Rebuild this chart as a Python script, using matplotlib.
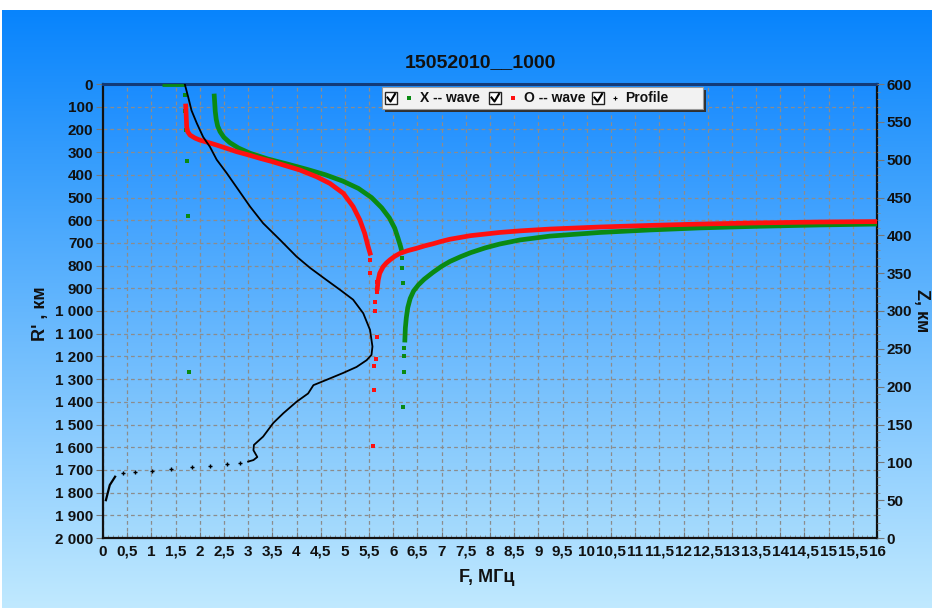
import numpy as np
import matplotlib
matplotlib.use('Agg')
import matplotlib.pyplot as plt
from matplotlib.patches import Rectangle
from matplotlib.lines import Line2D
from matplotlib.ticker import MultipleLocator, FuncFormatter

plt.rcParams['font.family'] = ['Liberation Sans', 'DejaVu Sans']
plt.rcParams['font.weight'] = 'bold'

# ---------------- data ----------------
title = "15052010__1000"

# X-wave (green), virtual range R' (km) vs F (MHz)
x_top_F = [1.22, 1.69]
x_top_R = [3, 3]
x_up_F = [2.30, 2.31, 2.32, 2.34, 2.37, 2.42, 2.50, 2.62, 2.80, 3.04, 3.40, 3.80, 4.20,
          4.60, 4.96, 5.28, 5.55, 5.76, 5.92, 6.03, 6.10, 6.15, 6.18]
x_up_R = [53, 85, 120, 155, 185, 210, 235, 258, 282, 305, 330, 352, 375,
          400, 428, 460, 500, 545, 590, 635, 680, 715, 740]
x_low_F = [6.24, 6.25, 6.27, 6.30, 6.35, 6.42, 6.52, 6.64, 6.82, 7.0, 7.17, 7.4, 7.6, 7.9,
           8.2, 8.62, 9.24, 10.27, 11.3, 12.33, 13.5, 14.8, 16.0]
x_low_R = [1128, 1075, 1030, 985, 945, 912, 885, 860, 830, 803, 782, 760, 743, 722,
           705, 687, 670, 654, 643, 634, 627, 621, 617]
x_pts_F = [1.69, 1.69, 1.71, 1.73, 1.75, 1.77, 6.18, 6.18, 6.20, 6.22, 6.22, 6.22, 6.20]
x_pts_R = [48, 119, 203, 339, 581, 1269, 766, 810, 877, 1165, 1200, 1269, 1423]

# O-wave (red)
o_up_F = [1.71, 1.72, 1.73, 1.75, 1.80, 1.90, 2.00, 2.18, 2.35, 2.55, 2.76, 3.00, 3.24,
          3.50, 3.73, 4.07, 4.42, 4.69, 4.97, 5.17, 5.31, 5.41, 5.48, 5.52]
o_up_R = [97, 140, 190, 210, 225, 238, 247, 258, 269, 283, 298, 312, 327,
          342, 357, 379, 409, 438, 482, 540, 599, 658, 716, 745]
o_low_F = [5.67, 5.69, 5.72, 5.79, 5.86, 5.93, 6.03, 6.14, 6.30, 6.48, 6.65, 6.82, 7.0, 7.17,
           7.6, 8.2, 8.62, 9.24, 10.27, 11.3, 12.33, 13.5, 14.8, 16.0]
o_low_R = [900, 863, 834, 805, 788, 775, 759, 746, 734, 724, 713, 704, 693, 684,
           668, 654, 647, 639, 630, 623, 617, 612, 608, 606]
o_pts_F = [5.52, 5.52, 5.66, 5.66, 5.62, 5.62, 5.66, 5.64, 5.60, 5.60, 5.58]
o_pts_R = [775, 833, 872, 916, 960, 1000, 1115, 1211, 1242, 1348, 1595]

# Profile (black), height Z (km) vs F (MHz)
p_line_F = [1.69, 1.76, 1.83, 1.94, 2.07, 2.21, 2.35, 2.56, 2.80, 3.04, 3.31, 3.66, 4.00,
            4.28, 4.62, 4.90, 5.17, 5.38, 5.52, 5.57, 5.55, 5.45, 5.24, 4.96, 4.62,
            4.35, 4.24, 4.00, 3.73, 3.52, 3.31, 3.12, 3.11, 3.19, 3.11, 3.00]
p_line_Z = [600, 583, 565, 548, 530, 517, 500, 482, 460, 438, 416, 394, 372,
            357, 341, 328, 315, 297, 275, 253, 242, 235, 226, 218, 209,
            202, 191, 180, 165, 152, 134, 123, 116, 107, 103, 101]
p_dots_F = [2.83, 2.56, 2.21, 1.84, 1.40, 1.01, 0.66, 0.41]
p_dots_Z = [99, 98, 95, 94, 91, 89, 87, 86]
p_base_F = [0.25, 0.14, 0.06]
p_base_Z = [81, 70, 50]

legend_labels = ["X -- wave", "O -- wave", "Profile"]

# ---------------- figure ----------------
W, H = 932, 608
fig = plt.figure(figsize=(W / 100, H / 100), dpi=100)
fig.patch.set_facecolor('white')


def fx(x):
    return x / W


def fy(y):
    return 1 - y / H


def gradient(c1, c2, n=256):
    t = np.linspace(0, 1, n)[:, None, None]
    c1 = np.array(c1)[None, None, :] / 255.0
    c2 = np.array(c2)[None, None, :] / 255.0
    return c1 * (1 - t) + c2 * t


bg = fig.add_axes([fx(2), 0, 1 - fx(2), fy(10)])
bg.imshow(gradient((8, 132, 252), (192, 233, 255)), aspect='auto',
          extent=[0, 1, 0, 1], origin='upper')
bg.axis('off')

ax = fig.add_axes([fx(103), fy(538), fx(877) - fx(103), fy(84) - fy(538)])
ax.imshow(gradient((26, 140, 255), (166, 219, 252)), aspect='auto',
          extent=[0, 16, 2000, 0], origin='upper', zorder=0)
ax.set_xlim(0, 16)
ax.set_ylim(2000, 0)

ax.xaxis.set_major_locator(MultipleLocator(0.5))
ax.xaxis.set_minor_locator(MultipleLocator(0.1))
ax.yaxis.set_major_locator(MultipleLocator(100))


def ffmt(v, p):
    return ('%g' % v).replace('.', ',')


def rfmt(v, p):
    v = int(round(v))
    return '{:,}'.format(v).replace(',', ' ')


ax.xaxis.set_major_formatter(FuncFormatter(ffmt))
ax.yaxis.set_major_formatter(FuncFormatter(rfmt))
ax.grid(True, which='major', color='#8c8c8c', linestyle=(0, (3, 2.5)), lw=0.9, zorder=1)

ax.tick_params(axis='y', which='major', direction='out', length=5, color='#777777',
               labelsize=11, pad=2, labelcolor='#111111')
ax.tick_params(axis='x', which='major', direction='in', length=4, color='#777777',
               labelsize=11, pad=5, labelcolor='#111111')
ax.tick_params(axis='x', which='minor', direction='in', length=2, color='#888888')

for s in ['left', 'bottom', 'right']:
    ax.spines[s].set_color('#111111')
    ax.spines[s].set_linewidth(1.6)
ax.spines['top'].set_color('#123a78')
ax.spines['top'].set_linewidth(2.2)

# traces
green = '#0a8a12'
red = '#ff1010'
ax.plot(x_top_F, x_top_R, color=green, lw=2, zorder=3, solid_capstyle='butt')
ax.plot(x_up_F, x_up_R, color=green, lw=3.4, zorder=3)
ax.plot(x_low_F, x_low_R, color=green, lw=3.4, zorder=3)
ax.plot(x_pts_F, x_pts_R, 's', color=green, ms=3.2, mew=0, zorder=3)
ax.plot(o_up_F, o_up_R, color=red, lw=3.4, zorder=4)
ax.plot(o_low_F, o_low_R, color=red, lw=3.4, zorder=4)
ax.plot(o_pts_F, o_pts_R, 's', color=red, ms=3.2, mew=0, zorder=4)

ax2 = ax.twinx()
ax2.set_ylim(0, 600)
ax2.yaxis.set_major_locator(MultipleLocator(50))
ax2.yaxis.set_minor_locator(MultipleLocator(10))
ax2.tick_params(axis='y', which='major', direction='out', length=5, color='#777777',
                labelsize=11, pad=2, labelcolor='#111111')
ax2.tick_params(axis='y', which='minor', direction='out', length=2.5, color='#888888')
for s in ax2.spines.values():
    s.set_visible(False)
ax2.plot(p_line_F, p_line_Z, color='black', lw=1.3, zorder=5)
ax2.plot(p_dots_F, p_dots_Z, '+', color='black', ms=3, mew=1, zorder=5)
ax2.plot(p_base_F, p_base_Z, color='black', lw=1.6, zorder=5)

# labels
fig.text(fx(480), fy(63), title, fontsize=14, fontweight='bold', ha='center', va='center',
         color='#111111')
fig.text(fx(40), fy(314), "R' , км", fontsize=13, fontweight='bold', rotation=90,
         ha='center', va='center', color='#111111')
fig.text(fx(921), fy(311), "Z, км", fontsize=13, fontweight='bold', rotation=-90,
         ha='center', va='center', color='#111111')
fig.text(fx(487), fy(578), "F, МГц", fontsize=13, fontweight='bold',
         ha='center', va='center', color='#111111')

# legend (manual, windows-like)
lx0, lx1, ly0, ly1 = 382, 703, 87, 109
fig.add_artist(Rectangle((fx(lx0 + 3), fy(ly1 + 3)), fx(lx1 - lx0), fy(ly0) - fy(ly1),
                         transform=fig.transFigure, facecolor='#303030', edgecolor='none',
                         zorder=20))
fig.add_artist(Rectangle((fx(lx0), fy(ly1)), fx(lx1 - lx0), fy(ly0) - fy(ly1),
                         transform=fig.transFigure, facecolor='#f2f2f2', edgecolor='#9a9a9a',
                         lw=0.8, zorder=21))
yc = 98
entries = [(385, green, 's', legend_labels[0], 420),
           (489, red, 's', legend_labels[1], 524),
           (592, 'black', '.', legend_labels[2], 625)]
for cbx, col, mk, lab, tx in entries:
    fig.add_artist(Rectangle((fx(cbx), fy(yc + 6)), fx(12), fy(yc - 6) - fy(yc + 6),
                             transform=fig.transFigure, facecolor='white',
                             edgecolor='#222222', lw=1.0, zorder=22))
    fig.add_artist(Line2D([fx(cbx + 2.5), fx(cbx + 5.5), fx(cbx + 10)],
                          [fy(yc - 0.5), fy(yc + 3.5), fy(yc - 4)],
                          transform=fig.transFigure, color='black', lw=1.5, zorder=23))
    if mk == 's':
        fig.add_artist(Line2D([fx(cbx + 24)], [fy(yc)], marker='s', ms=3.2, mew=0,
                              color=col, transform=fig.transFigure, zorder=23))
    else:
        fig.add_artist(Line2D([fx(cbx + 23)], [fy(yc)], marker='+', ms=3, mew=0.8,
                              color=col, transform=fig.transFigure, zorder=23))
    fig.text(fx(tx), fy(yc), lab, fontsize=10, fontweight='bold', ha='left', va='center',
             color='#111111', zorder=24)

fig.savefig('out.png', dpi=100)
